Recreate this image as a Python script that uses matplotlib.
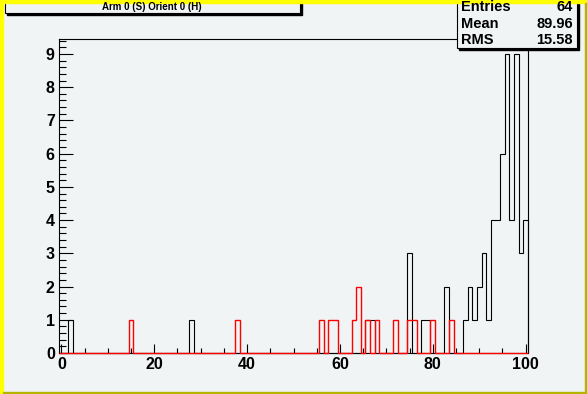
#!/usr/bin/env python3

import matplotlib
matplotlib.use('Agg')
import matplotlib.pyplot as plt
from matplotlib.patches import Rectangle
from matplotlib.ticker import MultipleLocator
import numpy as np

# histogram contents (bin centre -> count), bins are 1 wide from -0.5 to 100.5
black_bins = [2, 28, 66, 67, 75, 78, 79, 83, 87, 88, 89, 90, 91, 92, 93, 94, 95, 96, 97, 98, 99, 100]
black_counts = [1, 1, 1, 1, 3, 1, 1, 2, 1, 2, 1, 2, 3, 1, 4, 4, 6, 9, 4, 9, 3, 4]
red_bins = [15, 38, 56, 58, 59, 63, 64, 66, 68, 72, 75, 76, 80, 84]
red_counts = [1, 1, 1, 1, 1, 1, 2, 1, 1, 1, 1, 1, 1, 1]

title = 'Arm 0 (S) Orient 0 (H)'
stat_names = ['Entries', 'Mean', 'RMS']
stat_values = ['64', '89.96', '15.58']

W, H = 587, 394
bg = '#f1f4f5'
font = 'Liberation Sans'

edges = np.arange(-0.5, 101.5, 1.0)
black = np.zeros(len(edges) - 1)
black[np.array(black_bins)] = black_counts
red = np.zeros(len(edges) - 1)
red[np.array(red_bins)] = red_counts


def fx(x):
    return x / W


def fy(y):
    return 1 - y / H


fig = plt.figure(figsize=(W / 100, H / 100), dpi=100, facecolor=bg)
ax = fig.add_axes([fx(59), fy(353), (528 - 59) / W, (353 - 39) / H])
ax.set_facecolor(bg)

ax.stairs(black, edges, color='black', lw=0.8, baseline=0, zorder=3, clip_on=False)
ax.stairs(red, edges, color='#ff0000', lw=1.0, baseline=0, zorder=4, clip_on=False)

ax.set_xlim(-0.5, 100.5)
ax.set_ylim(0, 1.05 * black.max())

ax.xaxis.set_major_locator(MultipleLocator(20))
ax.xaxis.set_minor_locator(MultipleLocator(5))
ax.yaxis.set_major_locator(MultipleLocator(1))
ax.yaxis.set_minor_locator(MultipleLocator(0.2))
ax.tick_params(axis='x', which='major', direction='in', length=6.5, width=0.8, pad=3, top=False)
ax.tick_params(axis='x', which='minor', direction='in', length=3.6, width=0.8, top=False)
ax.tick_params(axis='y', which='major', direction='in', length=9.8, width=0.8, pad=3, right=False)
ax.tick_params(axis='y', which='minor', direction='in', length=5, width=0.8, right=False)
for lab in ax.get_xticklabels() + ax.get_yticklabels():
    lab.set_fontfamily(font)
    lab.set_fontweight('bold')
    lab.set_fontsize(11.5)
for s in ax.spines.values():
    s.set_linewidth(0.8)

# canvas bevel
fig.patches.append(Rectangle((0, 0), fx(2.5), 1, transform=fig.transFigure, color='#ffff00', zorder=5))
fig.patches.append(Rectangle((0, fy(2.5)), 1, 1 - fy(2.5), transform=fig.transFigure, color='#ffff00', zorder=5))
fig.patches.append(Rectangle((fx(585), 0), 1 - fx(585), fy(2.5), transform=fig.transFigure, color='#b4b400', zorder=5))
fig.patches.append(Rectangle((fx(2.5), 0), 1 - fx(2.5), 1 - fy(2), transform=fig.transFigure, color='#b4b400', zorder=5))


def pave(x0, y0, x1, y1):
    # shadow then box
    fig.patches.append(Rectangle((fx(x0 + 2), fy(y1 + 2)), fx(x1 - x0), fy(y0) - fy(y1),
                                 transform=fig.transFigure, color='black', zorder=3))
    fig.patches.append(Rectangle((fx(x0), fy(y1)), fx(x1 - x0), fy(y0) - fy(y1),
                                 transform=fig.transFigure, facecolor=bg, edgecolor='black',
                                 lw=0.8, zorder=4))


pave(5, -5, 300, 12.5)
fig.text(fx(152), fy(7.5), title, ha='center', va='center', fontfamily=font,
         fontweight='bold', fontsize=7, zorder=6)

pave(457, -5, 577, 48)
for i, (n, v) in enumerate(zip(stat_names, stat_values)):
    yy = 7 + i * 16.5
    fig.text(fx(461), fy(yy), n, ha='left', va='center', fontfamily=font,
             fontweight='bold', fontsize=10.5, zorder=6)
    fig.text(fx(573), fy(yy), v, ha='right', va='center', fontfamily=font,
             fontweight='bold', fontsize=10.5, zorder=6)

fig.savefig('out.png', dpi=100, facecolor=bg)
